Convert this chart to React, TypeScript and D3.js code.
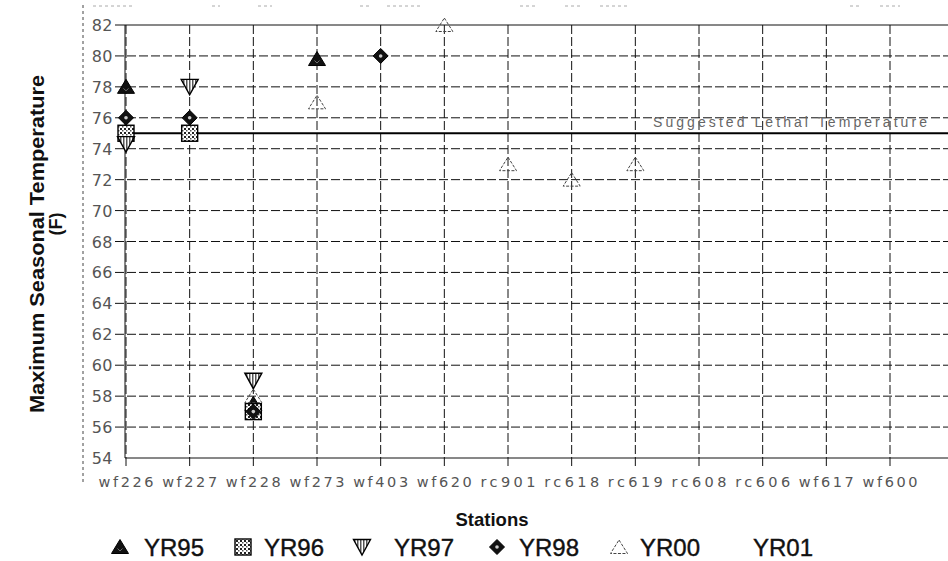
import React from "react";
import * as d3 from "d3";

const stations = ["wf226", "wf227", "wf228", "wf273", "wf403", "wf620", "rc901", "rc618", "rc619", "rc608", "rc606", "wf617", "wf600"];
const yTicks = [54, 56, 58, 60, 62, 64, 66, 68, 70, 72, 74, 76, 78, 80, 82];

const yr95 = [78, null, 57.5, 79.8, null, null, null, null, null, null, null, null, null];
const yr96 = [75, 75, 57, null, null, null, null, null, null, null, null, null, null];
const yr97 = [74.3, 78, 59, null, null, null, null, null, null, null, null, null, null];
const yr98 = [76, 76, 57, null, 80, null, null, null, null, null, null, null, null];
const yr00 = [null, null, 58, 77, null, 82, 73, 72, 73, null, null, null, null];
const yr01: (number | null)[] = [null, null, null, null, null, null, null, null, null, null, null, null, null];

const lethalTemp = 75;
const lethalLabel = "Suggested Lethal Temperature";

const seriesNames = ["YR95", "YR96", "YR97", "YR98", "YR00", "YR01"];
const seriesValues = [yr95, yr96, yr97, yr98, yr00, yr01];
const seriesMarkers = ["triUp", "square", "triDown", "diamond", "triOpen", "none"];

const W = 948;
const H = 561;
const plotLeft = 125;
const plotTop = 25;
const plotBottom = 458;

const x = d3.scalePoint<string>().domain(stations).range([126, 890]);
const y = d3.scaleLinear().domain([54, 82]).range([plotBottom, plotTop]);

function Marker({ type, cx, cy }: { type: string; cx: number; cy: number }) {
  const s = 8.5;
  if (type === "triUp") {
    return (
      <g>
        <path d={`M${cx},${cy - 7.5}L${cx + s},${cy + 6.5}L${cx - s},${cy + 6.5}Z`} fill="#111" stroke="#000" strokeWidth={1} />
        <path d={`M${cx - 2.5},${cy + 1.5}l2.5,2.5l2.5,-2.5`} fill="none" stroke="#888" strokeWidth={0.8} />
      </g>
    );
  }
  if (type === "square") {
    return (
      <rect x={cx - 8} y={cy - 8} width={16} height={16} fill="url(#sqpat)" stroke="#000" strokeWidth={1.4} />
    );
  }
  if (type === "triDown") {
    return (
      <path d={`M${cx - s},${cy - 7.5}L${cx + s},${cy - 7.5}L${cx},${cy + 8}Z`} fill="url(#tripat)" stroke="#000" strokeWidth={1.4} />
    );
  }
  if (type === "diamond") {
    return (
      <g>
        <path d={`M${cx},${cy - 7.5}L${cx + 7.5},${cy}L${cx},${cy + 7.5}L${cx - 7.5},${cy}Z`} fill="#111" stroke="#000" strokeWidth={1} />
        <circle cx={cx} cy={cy} r={1.8} fill="#ccc" />
      </g>
    );
  }
  if (type === "triOpen") {
    return (
      <path d={`M${cx},${cy - 7}L${cx + s},${cy + 6.5}L${cx - s},${cy + 6.5}Z`} fill="none" stroke="#444" strokeWidth={1} strokeDasharray="3,1.5" />
    );
  }
  return null;
}

export default function App() {
  const gridDash = "9,3";
  const legendMarkerX = [120, 243, 362, 497, 619, 735];
  const legendTextX = [144, 264, 394, 519, 640, 753];
  const legendY = 547;
  const topBits = [[93, 135], [212, 220], [258, 272], [360, 372], [387, 420], [520, 537], [565, 580], [600, 627], [850, 860], [880, 900]];
  return (
    <div style={{ position: "fixed", left: 0, top: 0, width: W, height: H, background: "#fff" }}>
      <svg width={W} height={H} style={{ display: "block", fontFamily: "'Liberation Sans', Arial, sans-serif" }}>
        <defs>
          <pattern id="sqpat" width="4" height="4" patternUnits="userSpaceOnUse">
            <rect width="4" height="4" fill="#fff" />
            <rect width="2" height="2" fill="#222" />
            <rect x="2" y="2" width="1.5" height="1.5" fill="#555" />
          </pattern>
          <pattern id="tripat" width="3" height="3" patternUnits="userSpaceOnUse">
            <rect width="3" height="3" fill="#fff" />
            <rect width="1.5" height="3" fill="#555" />
          </pattern>
        </defs>
        <rect width={W} height={H} fill="#fff" />

        {/* faint remnants along top edge */}
        {topBits.map((b, i) => (
          <line key={"tb" + i} x1={b[0]} x2={b[1]} y1={6} y2={6} stroke="#aaa" strokeDasharray="3,3" />
        ))}

        {/* left frame line */}
        <line x1={83} x2={83} y1={5} y2={485} stroke="#444" strokeWidth={1} strokeDasharray="3,3" />

        {/* horizontal gridlines */}
        {yTicks.map((t) => (
          <g key={"h" + t}>
            <line x1={t === 54 ? plotLeft : 115} x2={W} y1={y(t)} y2={y(t)} stroke="#111" strokeWidth={1} strokeDasharray={t === 54 || t === 82 ? undefined : gridDash} />
            <text x={113} y={y(t) + 6} textAnchor="end" fontSize={16} fill="#555" fontFamily="'DejaVu Sans', sans-serif" letterSpacing={0.5}>{t}</text>
          </g>
        ))}

        {/* vertical gridlines */}
        <line x1={plotLeft} x2={plotLeft} y1={plotTop} y2={plotBottom} stroke="#111" />
        {stations.map((st) => (
          <g key={"v" + st}>
            <line x1={x(st)} x2={x(st)} y1={plotTop} y2={plotBottom + 8} stroke="#111" strokeWidth={1} strokeDasharray={gridDash} />
            <text x={x(st)} y={487} textAnchor="middle" fontSize={14.5} fill="#555" fontFamily="'DejaVu Sans', sans-serif" textLength={55} lengthAdjust="spacing">{st}</text>
          </g>
        ))}

        {/* lethal temperature line */}
        <line x1={plotLeft} x2={W} y1={y(lethalTemp)} y2={y(lethalTemp)} stroke="#000" strokeWidth={2} />
        <text x={653} y={127} fontSize={14} fill="#666" textLength={274} lengthAdjust="spacing">{lethalLabel}</text>

        {/* data markers */}
        {seriesValues.map((vals, si) =>
          vals.map((v, i) =>
            v == null ? null : <Marker key={si + "-" + i} type={seriesMarkers[si]} cx={x(stations[i]) as number} cy={y(v)} />
          )
        )}

        {/* axis titles */}
        <text x={492} y={526} textAnchor="middle" fontSize={18.5} fontWeight="bold" fill="#111">Stations</text>
        <text transform={`translate(44,244) rotate(-90)`} textAnchor="middle" fontSize={20} fontWeight="bold" fill="#111" textLength={338} lengthAdjust="spacingAndGlyphs">Maximum Seasonal Temperature</text>
        <text transform={`translate(62,224) rotate(-90)`} textAnchor="middle" fontSize={18} fontWeight="bold" fill="#111">(F)</text>

        {/* legend */}
        {seriesNames.map((name, i) => (
          <g key={"lg" + name}>
            <Marker type={seriesMarkers[i]} cx={legendMarkerX[i]} cy={legendY} />
            <text x={legendTextX[i]} y={legendY + 9} fontSize={24} fill="#111" stroke="#111" strokeWidth={0.4}>{name}</text>
          </g>
        ))}
      </svg>
    </div>
  );
}
